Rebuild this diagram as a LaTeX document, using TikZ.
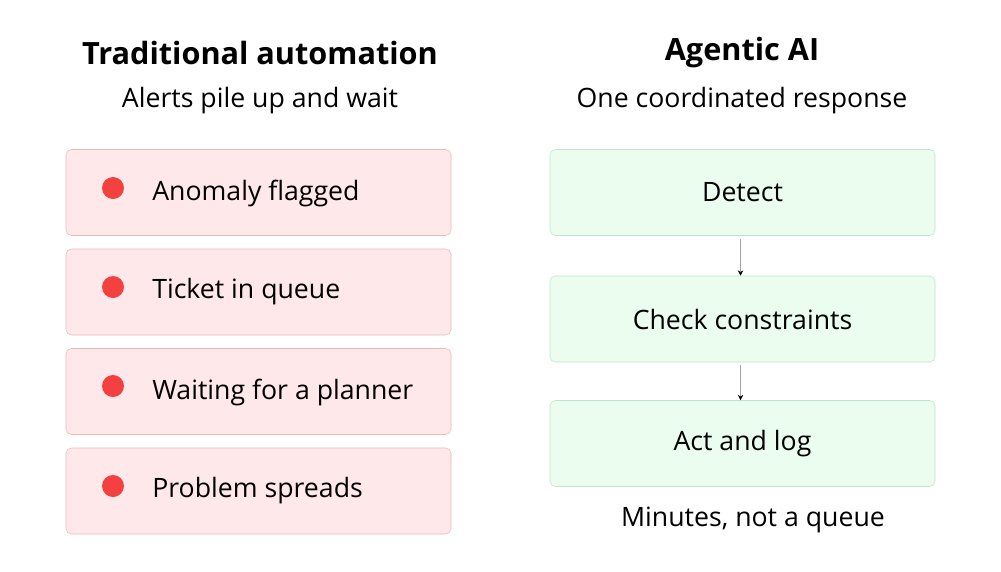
\documentclass[tikz,border=0pt]{standalone}
\usepackage{fontspec}
\setmainfont{Open Sans}
\usepackage{xcolor}
\usetikzlibrary{arrows.meta,positioning}

\definecolor{redfill}{HTML}{FFE8EA}
\definecolor{redline}{HTML}{E6B9BD}
\definecolor{reddot}{HTML}{F2413F}
\definecolor{greenfill}{HTML}{EBFDEF}
\definecolor{greenline}{HTML}{C2E2C9}

\begin{document}
\begin{tikzpicture}[
    x=0.75pt, y=-0.75pt,
    title/.style={
        font=\fontsize{23}{27}\selectfont\bfseries
    },
    subtitle/.style={
        font=\fontsize{20}{24}\selectfont
    },
    alertbox/.style={
        draw=redline,
        fill=redfill,
        rounded corners=4pt,
        minimum width=385*0.75pt,
        minimum height=86*0.75pt,
        inner sep=0pt
    },
    stepbox/.style={
        draw=greenline,
        fill=greenfill,
        rounded corners=4pt,
        minimum width=385*0.75pt,
        minimum height=86*0.75pt,
        inner sep=0pt,
        font=\fontsize{20}{24}\selectfont
    },
    dot/.style={
        circle,
        fill=reddot,
        minimum size=22*0.75pt,
        inner sep=0pt
    },
    label/.style={
        anchor=west,
        inner sep=0pt,
        font=\fontsize{20}{24}\selectfont
    },
    arrow/.style={
        draw=gray!70,
        -{Stealth[length=4pt,width=4pt,black]},
        thin
    }
]

% Frame
\useasboundingbox[fill=white] (0,0) rectangle (1001,572);

% Headings
\node[title] (lefttitle) at (260,53) {Traditional automation};
\node[subtitle] (leftsub) at (260,101) {Alerts pile up and wait};

\node[title] (righttitle) at (742,53) {Agentic AI};
\node[subtitle] (rightsub) at (742,101) {One coordinated response};

% Left column
\node[alertbox] (flagged) at (258.5,192.5) {};
\node[dot] at (113,188) {};
\node[label] at (152,193) {Anomaly flagged};

\node[alertbox] (queue) at (258.5,292) {};
\node[dot] at (113,287) {};
\node[label] at (152,292) {Ticket in queue};

\node[alertbox] (planner) at (258.5,391.5) {};
\node[dot] at (113,386) {};
\node[label] at (152,392) {Waiting for a planner};

\node[alertbox] (spreads) at (258.5,491) {};
\node[dot] at (113,486) {};
\node[label] at (152,491) {Problem spreads};

% Right column
\node[stepbox] (detect) at (742.5,192.5) {Detect};
\node[stepbox] (check) at (742.5,319) {Check constraints};
\node[stepbox] (act) at (742.5,443.5) {Act and log};

\draw[arrow] (detect.south) ++(-2,3) coordinate (a1) -- (a1 |- check.north);
\draw[arrow] (check.south) ++(-2,3) coordinate (a2) -- (a2 |- act.north);

\node[subtitle] (note) at (753,520) {Minutes, not a queue};

\end{tikzpicture}
\end{document}
